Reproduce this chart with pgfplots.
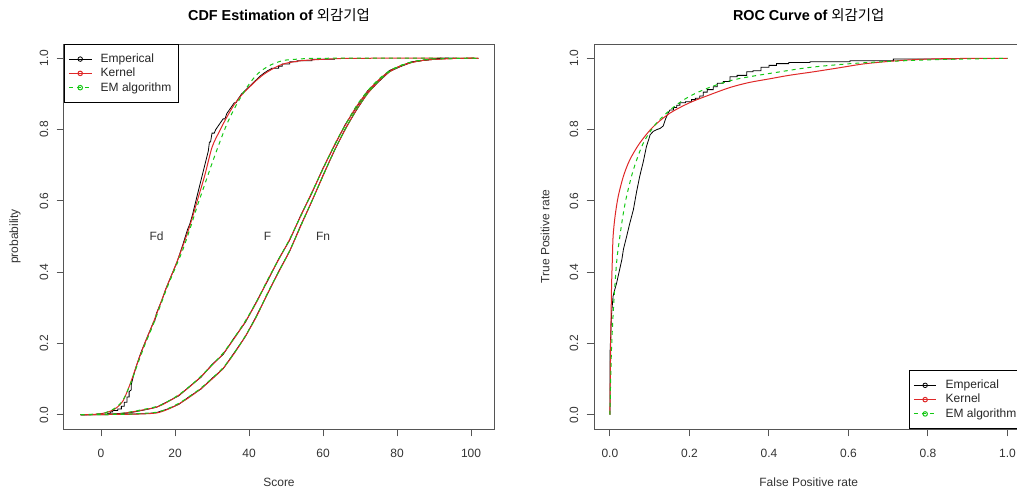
\documentclass[border=0pt]{standalone}
\usepackage{fontspec}
\setmainfont{Liberation Sans}
\newfontfamily\kr{Noto Sans CJK KR}
\usepackage{pgfplots}
\pgfplotsset{compat=1.18}

\definecolor{rred}{RGB}{223,40,40}
\definecolor{rgreen}{RGB}{20,200,20}
\definecolor{boxgray}{RGB}{85,85,85}

\pgfplotsset{
  /pgf/number format/assume math mode=true,
  rstyle/.style={
    scale only axis,
    height=288.75pt,
    axis line style={boxgray, line width=0.75pt},
    tick style={boxgray, line width=0.75pt},
    tick align=outside,
    major tick length=5.6pt,
    tick pos=left,
    ticklabel style={font=\fontsize{9}{10.8}\selectfont, text=black!80},
    xticklabel style={yshift=-6pt},
    yticklabel style={xshift=-2.6pt, rotate=90, anchor=south,
      /pgf/number format/fixed, /pgf/number format/fixed zerofill,
      /pgf/number format/precision=1},
    label style={font=\fontsize{9}{10.8}\selectfont, text=black!80},
    every axis title shift=0pt,
    title style={font=\fontsize{10.8}{13}\selectfont,
      at={(axis description cs:0.5,1.0753)}, anchor=center},
    xlabel style={at={(axis description cs:0.5,-0.1377)}, anchor=center},
    ylabel style={at={(axis description cs:-0.114,0.5)}, anchor=center},
    ymin=-0.04, ymax=1.04,
    ytick={0,0.2,0.4,0.6,0.8,1},
    legend cell align=left,
    legend image code/.code={
      \draw[##1] (0pt,0pt) -- (17pt,0pt);
      \draw[##1, solid] (8.5pt,0pt) circle (1.7pt);
      \path (21.5pt,0pt);},
    legend style={draw=black, line width=0.6pt,
      font=\fontsize{9}{10.8}\selectfont, text=black!85,
      inner xsep=3pt, inner ysep=5pt, row sep=-1.3pt},
  },
  emp/.style={black, line width=0.6pt},
  ker/.style={rred, line width=0.75pt},
  em/.style={rgreen, line width=0.75pt, dash pattern=on 3pt off 3pt},
}

\begin{document}
\begin{tikzpicture}
\useasboundingbox (0,0) rectangle (762.75pt,-369.75pt);
\clip (0,0) rectangle (762.75pt,-369.75pt);

% ---------------- CDF ----------------
\begin{axis}[rstyle,
  at={(48pt,-321.75pt)}, anchor=south west,
  width=322.5pt,
  xmin=-10, xmax=106.2,
  xtick={0,20,40,60,80,100},
  title={\bfseries CDF Estimation of {\kr\mdseries 외감기업}},
  xlabel={Score}, ylabel={probability},
  legend style={at={(0,1)}, anchor=north west},
]
% Fd
\addplot[emp] coordinates {
(-5.5,0) (1.8,0) (1.8,0.004) (2.5,0.004) (2.5,0.008) (3.2,0.008) (3.2,0.012)
(4.5,0.012) (4.5,0.016) (5.5,0.016) (5.5,0.024) (6.3,0.024) (6.3,0.035) (7,0.035)
(7,0.05) (7.6,0.05) (7.6,0.065) (8.2,0.07) (8.2,0.085) (8.8,0.11) (9.5,0.135)
(10.3,0.16) (11,0.18) (11.8,0.2) (12.6,0.22) (13.4,0.24) (14.2,0.26) (14.5,0.262)
(15,0.285) (15.8,0.305) (16.6,0.325) (17.4,0.35) (18.2,0.37) (19,0.39) (19.8,0.41)
(20.6,0.43) (21.4,0.455) (22.2,0.48) (22.8,0.5) (23.4,0.52) (24,0.535) (24.7,0.56)
(25.4,0.59) (26,0.615) (26.6,0.64) (27.2,0.665) (27.8,0.69) (28.4,0.715) (29,0.74)
(29.3,0.765) (29.6,0.765) (30,0.79) (30.6,0.79) (31,0.8) (32,0.815) (33,0.83)
(33.5,0.83) (34,0.845) (35,0.86) (36,0.875) (36.5,0.875) (37,0.885) (38,0.9)
(39,0.91) (40,0.92) (41,0.93) (42,0.94) (43,0.95) (44,0.958) (45,0.965) (46,0.97)
(46,0.972) (48,0.972) (48,0.978) (49,0.978) (49,0.984) (51,0.984) (51,0.99) (53,0.99)
(53,0.993) (57,0.993) (57,0.997) (63.2,0.997)
};
\addlegendentry{Emperical}
\addplot[ker, smooth] coordinates {
(-5.5,0) (-2,0.001) (0,0.003) (2,0.008) (4,0.018) (6,0.04) (8,0.09) (10,0.15)
(12,0.205) (14,0.255) (16,0.31) (18,0.365) (20,0.415) (22,0.47) (24,0.53) (26,0.6)
(28,0.67) (30,0.75) (32,0.795) (34,0.835) (36,0.87) (38,0.897) (40,0.918) (42,0.938)
(44,0.955) (46,0.968) (48,0.979) (50,0.986) (54,0.993) (58,0.996) (64,0.999) (70,1) (102,1)
};
\addlegendentry{Kernel}
\addplot[em, smooth] coordinates {
(-5.5,0) (0,0.003) (2,0.009) (4,0.02) (6,0.042) (8,0.088) (10,0.145) (12,0.2)
(14,0.25) (16,0.305) (18,0.36) (20,0.41) (22,0.46) (24,0.52) (26,0.585) (28,0.645)
(30,0.705) (32,0.762) (34,0.815) (36,0.858) (38,0.895) (40,0.927) (42,0.953) (44,0.97)
(46,0.982) (48,0.99) (50,0.995) (54,0.998) (60,1) (102,1)
};
\addlegendentry{EM algorithm}
% F
\addplot[emp, forget plot] coordinates {
(-5.5,0) (3,0.002) (8,0.006) (12,0.014) (15,0.021) (18,0.037) (21,0.053) (24,0.08)
(27,0.105) (30,0.141) (33,0.169) (36,0.216) (39,0.259) (42,0.317) (45,0.375) (48,0.437)
(51,0.49) (54,0.56) (57,0.622) (60,0.692) (63,0.753) (66,0.814) (69,0.862) (72,0.908)
(75,0.937) (78,0.966) (81,0.978) (84,0.99) (87,0.994) (90,0.998) (92,1) (95.2,1)
};
\addplot[ker, smooth, forget plot] coordinates {
(-5.5,0) (0,0.001) (5,0.0026) (10,0.011) (15,0.0215) (18,0.036) (21,0.0546) (24,0.0788)
(27,0.1067) (30,0.139) (33,0.171) (36,0.214) (39,0.261) (42,0.315) (45,0.377) (48,0.435)
(51,0.492) (54,0.558) (57,0.624) (60,0.69) (63,0.755) (66,0.812) (69,0.864) (72,0.906)
(75,0.939) (78,0.964) (81,0.979) (84,0.989) (87,0.994) (90,0.997) (94,0.999) (98,1) (102,1)
};
\addplot[em, smooth, forget plot] coordinates {
(-5.5,0) (0,0.001) (5,0.003) (10,0.012) (15,0.023) (18,0.037) (21,0.056) (24,0.08)
(27,0.108) (30,0.14) (33,0.173) (36,0.216) (39,0.263) (42,0.317) (45,0.378) (48,0.436)
(51,0.493) (54,0.558) (57,0.624) (60,0.69) (63,0.755) (66,0.813) (69,0.866) (72,0.908)
(75,0.941) (78,0.965) (81,0.98) (84,0.99) (87,0.995) (90,0.998) (94,0.999) (98,1) (102,1)
};
% Fn
\addplot[emp, forget plot] coordinates {
(-5.5,0) (8,0.002) (12,0.003) (15,0.006) (18,0.016) (21,0.029) (24,0.052) (27,0.072)
(30,0.102) (33,0.129) (36,0.174) (39,0.219) (42,0.277) (45,0.339) (48,0.402) (51,0.459)
(54,0.532) (57,0.599) (60,0.672) (63,0.739) (66,0.802) (69,0.854) (72,0.902) (75,0.934)
(78,0.963) (81,0.977) (84,0.989) (87,0.994) (90,0.997) (92,1) (95.2,1)
};
\addplot[ker, smooth, forget plot] coordinates {
(-5.5,0) (5,0.001) (10,0.002) (15,0.005) (18,0.015) (21,0.03) (24,0.05) (27,0.073)
(30,0.1) (33,0.13) (36,0.172) (39,0.22) (42,0.275) (45,0.34) (48,0.4) (51,0.46)
(54,0.53) (57,0.6) (60,0.67) (63,0.74) (66,0.8) (69,0.855) (72,0.9) (75,0.935)
(78,0.962) (81,0.978) (84,0.988) (87,0.994) (90,0.997) (94,0.999) (98,1) (102,1)
};
\addplot[em, smooth, forget plot] coordinates {
(-5.5,0) (5,0.001) (10,0.003) (15,0.007) (18,0.017) (21,0.032) (24,0.052) (27,0.075)
(30,0.102) (33,0.132) (36,0.173) (39,0.221) (42,0.276) (45,0.341) (48,0.401) (51,0.461)
(54,0.53) (57,0.6) (60,0.67) (63,0.74) (66,0.801) (69,0.856) (72,0.901) (75,0.936)
(78,0.963) (81,0.979) (84,0.989) (87,0.995) (90,0.998) (94,0.999) (98,1) (102,1)
};
\node[font=\fontsize{9}{10.8}\selectfont, text=black!80] at (axis cs:15,0.5) {Fd};
\node[font=\fontsize{9}{10.8}\selectfont, text=black!80] at (axis cs:45,0.5) {F};
\node[font=\fontsize{9}{10.8}\selectfont, text=black!80] at (axis cs:60,0.5) {Fn};
\end{axis}

% ---------------- ROC ----------------
\begin{axis}[rstyle,
  at={(445.5pt,-321.75pt)}, anchor=south west,
  width=322.05pt,
  xmin=-0.04, xmax=1.04,
  xtick={0,0.2,0.4,0.6,0.8,1},
  xticklabel style={/pgf/number format/fixed, /pgf/number format/fixed zerofill,
      /pgf/number format/precision=1},
  title={\bfseries ROC Curve of {\kr\mdseries 외감기업}},
  xlabel={False Positive rate}, ylabel={True Positive rate},
  legend style={at={(1,0)}, anchor=south east},
]
\addplot[emp] coordinates {
(0,0) (0,0.165) (0.004,0.28) (0.008,0.333) (0.012,0.35) (0.017,0.37) (0.021,0.39)
(0.025,0.41) (0.03,0.435) (0.034,0.464) (0.042,0.5) (0.05,0.537) (0.059,0.575)
(0.067,0.625) (0.075,0.669) (0.084,0.71) (0.092,0.753) (0.097,0.77) (0.101,0.785)
(0.109,0.795) (0.118,0.8) (0.126,0.803) (0.134,0.81) (0.14,0.83) (0.146,0.845)
(0.151,0.855) (0.16,0.855) (0.16,0.862) (0.168,0.862) (0.168,0.868) (0.176,0.868)
(0.176,0.875) (0.19,0.875) (0.19,0.878) (0.205,0.878) (0.205,0.884) (0.215,0.884)
(0.215,0.888) (0.226,0.888) (0.226,0.894) (0.235,0.894) (0.235,0.905) (0.245,0.905)
(0.245,0.912) (0.26,0.912) (0.26,0.92) (0.27,0.92) (0.27,0.93) (0.285,0.93)
(0.285,0.935) (0.302,0.935) (0.302,0.948) (0.32,0.948) (0.32,0.952) (0.344,0.952)
(0.344,0.962) (0.36,0.962) (0.36,0.965) (0.38,0.965) (0.38,0.975) (0.4,0.975)
(0.4,0.98) (0.419,0.98) (0.419,0.985) (0.45,0.985) (0.45,0.988) (0.503,0.988)
(0.503,0.99) (0.604,0.99) (0.604,0.993) (0.713,0.993) (0.713,0.998) (0.872,0.998)
};
\addlegendentry{Emperical}
\addplot[ker, smooth] coordinates {
(0,0) (0.002,0.2) (0.004,0.352) (0.006,0.43) (0.008,0.5) (0.013,0.557) (0.021,0.613)
(0.034,0.669) (0.05,0.715) (0.075,0.762) (0.109,0.808) (0.151,0.846) (0.2,0.875)
(0.25,0.897) (0.302,0.918) (0.35,0.932) (0.4,0.942) (0.45,0.952) (0.512,0.962)
(0.575,0.973) (0.637,0.984) (0.7,0.991) (0.763,0.996) (0.85,0.999) (1,1)
};
\addlegendentry{Kernel}
\addplot[em, smooth] coordinates {
(0,0) (0.002,0.1) (0.004,0.184) (0.008,0.28) (0.013,0.37) (0.018,0.44) (0.025,0.5)
(0.033,0.56) (0.042,0.613) (0.059,0.687) (0.084,0.762) (0.117,0.818) (0.159,0.862)
(0.2,0.893) (0.25,0.918) (0.302,0.937) (0.35,0.948) (0.428,0.962) (0.5,0.974)
(0.595,0.984) (0.68,0.99) (0.763,0.994) (0.85,0.997) (1,1)
};
\addlegendentry{EM algorithm}
\end{axis}
\end{tikzpicture}
\end{document}
